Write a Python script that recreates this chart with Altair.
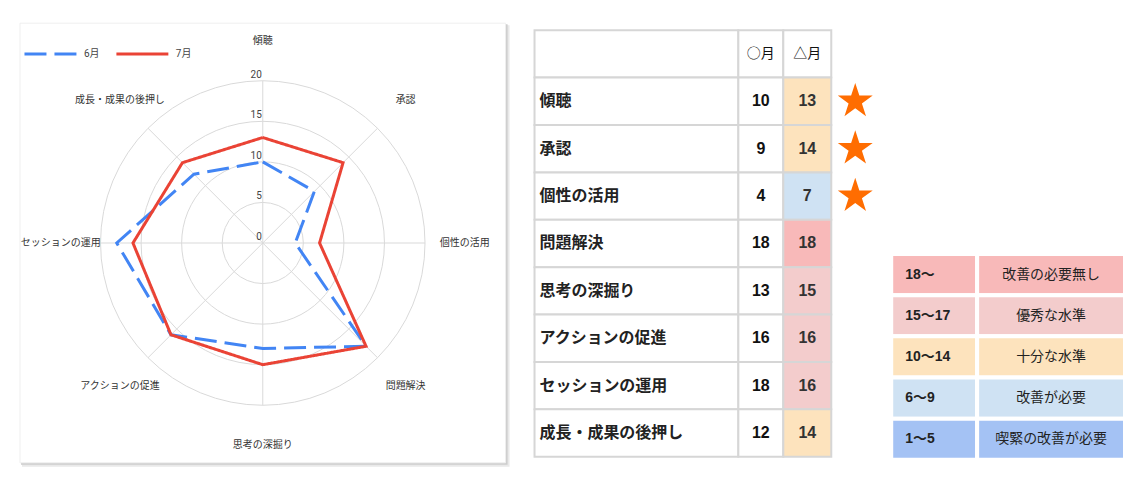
import math
import altair as alt
import pandas as pd

# ---------------- data ----------------
categories = ["傾聴", "承認", "個性の活用", "問題解決", "思考の深掘り",
              "アクションの促進", "セッションの運用", "成長・成果の後押し"]
june = [10, 9, 4, 18, 13, 16, 18, 12]
july = [13, 14, 7, 18, 15, 16, 16, 14]
series_names = ["6月", "7月"]
table_headers = ["○月", "△月"]
starred = [True, True, True, False, False, False, False, False]
radial_ticks = [0, 5, 10, 15, 20]
band_ranges = ["18〜", "15〜17", "10〜14", "6〜9", "1〜5"]
band_meanings = ["改善の必要無し", "優秀な水準", "十分な水準", "改善が必要", "喫緊の改善が必要"]
band_thresholds = [6, 10, 15, 18]

# ---------------- styles / layout ----------------
BAND_COLORS_LOW_HIGH = ["#A4C2F4", "#CFE2F3", "#FDE3BD", "#F3CCCC", "#F8B9B9"]
BAND_COLORS_HIGH_LOW = BAND_COLORS_LOW_HIGH[::-1]
SERIES_COLORS = ["#4285F4", "#EA4335"]
SERIES_DASH = [[22, 8], [1, 0]]
GRID = "#d9d9d9"
TBL_LINE = "#d6d6d6"
STAR_COLOR = "#FF6D01"
FONT_R = "Roboto, Noto Sans CJK JP, sans-serif"
FONT_T = "Liberation Sans, Arial, Noto Sans CJK JP, sans-serif"
FONT_J = "Noto Sans CJK JP, sans-serif"

H = 440                    # common panel height
RW = 486                   # radar card width
GAP1 = 29                  # gap between radar card and table
PX = 8.12                  # pixels per radial unit
RMAX = 20
LABEL_R = 24.9
n = len(categories)

xs = alt.Scale(domain=[-RW / 2 / PX, (RW / 2 + GAP1) / PX], nice=False, zero=False)
ys = alt.Scale(domain=[-H / 2 / PX, H / 2 / PX], nice=False, zero=False)
X = alt.X("px:Q", scale=xs, axis=None)
Y = alt.Y("py:Q", scale=ys, axis=None)
ANG = f"datum.i * 2 * PI / {n}"

# ---------------- radar ----------------
card_df = pd.DataFrame({"k": [0]})
shadow_far = alt.Chart(card_df).mark_rect(fill="#e9e9e9").encode(
    x=alt.value(2), x2=alt.value(RW + 4), y=alt.value(2), y2=alt.value(H + 4))
shadow_near = alt.Chart(card_df).mark_rect(fill="#cdcdcd").encode(
    x=alt.value(1), x2=alt.value(RW + 2), y=alt.value(1), y2=alt.value(H + 2))
card = alt.Chart(card_df).mark_rect(fill="white", stroke="#efefef", strokeWidth=1).encode(
    x=alt.value(0), x2=alt.value(RW), y=alt.value(0), y2=alt.value(H))

ring_df = pd.DataFrame({"ring": radial_ticks[1:]})
rings = alt.Chart(ring_df).transform_calculate(px="0", py="0").mark_point(
    filled=False, color=GRID, strokeWidth=1, opacity=1
).encode(
    x=X, y=Y,
    size=alt.Size("ring:Q", scale=alt.Scale(type="pow", exponent=2, domain=[0, RMAX],
                                            range=[0, (2 * RMAX * PX) ** 2]), legend=None),
)

cat_df = pd.DataFrame({"category": categories, "i": list(range(n))})
spokes = alt.Chart(cat_df).transform_calculate(
    a=ANG, px="0", py="0",
).transform_calculate(
    px2=f"{RMAX} * sin(datum.a)", py2=f"{RMAX} * cos(datum.a)"
).mark_rule(color=GRID, strokeWidth=1).encode(x=X, y=Y, x2="px2:Q", y2="py2:Q")

cat_labels = alt.Chart(cat_df).transform_calculate(a=ANG).transform_calculate(
    px=f"{LABEL_R} * sin(datum.a)", py=f"{LABEL_R} * cos(datum.a)"
).mark_text(font=FONT_R, fontSize=10, color="#333", align="center", baseline="middle").encode(
    x=X, y=Y, text="category:N")

tick_df = pd.DataFrame({"tick": radial_ticks})
tick_labels = alt.Chart(tick_df).transform_calculate(px="0", py="datum.tick").mark_text(
    font=FONT_R, fontSize=10, color="#444", align="right", baseline="bottom", dx=-1, dy=-1
).encode(x=X, y=Y, text="tick:Q")

rows = []
for s, vals in zip(series_names, [june, july]):
    for k in range(n + 1):
        i = k % n
        rows.append({"series": s, "order": k, "category": categories[i], "i": i, "value": vals[i]})
line_df = pd.DataFrame(rows)

leg = alt.Legend(title=None, orient="none", legendX=3, legendY=3, direction="horizontal",
                 symbolType="stroke", symbolSize=2704, symbolStrokeWidth=3,
                 labelFont=FONT_R, labelFontSize=10, labelColor="#444",
                 labelOffset=6, columnPadding=10)
lines = alt.Chart(line_df).transform_calculate(a=ANG).transform_calculate(
    px="datum.value * sin(datum.a)", py="datum.value * cos(datum.a)"
).mark_line(strokeWidth=3).encode(
    x=X, y=Y, order="order:Q",
    detail="series:N",
    color=alt.Color("series:N", scale=alt.Scale(domain=series_names, range=SERIES_COLORS), legend=leg),
    strokeDash=alt.StrokeDash("series:N", scale=alt.Scale(domain=series_names, range=SERIES_DASH), legend=leg),
)

radar = alt.layer(shadow_far, shadow_near, card, rings, spokes, tick_labels, lines, cat_labels).properties(
    width=RW + GAP1, height=H)

# ---------------- table ----------------
TABLE_TOP = 7
ROW_H = 47.44
TABLE_BOTTOM = TABLE_TOP + ROW_H * (n + 1)
HEADER_KEY = "__header__"
row_keys = [HEADER_KEY] + categories
TY = alt.Y("key:N", scale=alt.Scale(domain=row_keys, range=[TABLE_TOP, TABLE_BOTTOM],
                                    paddingInner=0, paddingOuter=0), axis=None)

all_rows = pd.DataFrame({"key": row_keys})
body = pd.DataFrame({"key": categories, "label": categories, "jun": june, "jul": july, "star": starred})
hdr = pd.DataFrame({"key": [HEADER_KEY], "h1": [table_headers[0]], "h2": [table_headers[1]]})


def cell_rects(df):
    return alt.Chart(df).mark_rect(fill="white", stroke=TBL_LINE, strokeWidth=2).encode(y=TY)


col0 = alt.layer(
    cell_rects(all_rows),
    alt.Chart(body).mark_text(font=FONT_T, fontSize=16, fontWeight="bold", color="#222",
                              align="left", baseline="middle").encode(
        y=TY, x=alt.value(5), text="label:N"),
).properties(width=204, height=H)

col1 = alt.layer(
    cell_rects(all_rows),
    alt.Chart(hdr).mark_text(font=FONT_J, fontSize=14, color="#111", baseline="middle").encode(
        y=TY, text="h1:N"),
    alt.Chart(body).mark_text(font=FONT_T, fontSize=16, fontWeight="bold", color="#111",
                              baseline="middle").encode(y=TY, text="jun:Q"),
).properties(width=45, height=H)

col2 = alt.layer(
    cell_rects(hdr),
    alt.Chart(body).mark_rect(stroke=TBL_LINE, strokeWidth=2, opacity=1).encode(
        y=TY,
        fill=alt.Fill("jul:Q", scale=alt.Scale(type="threshold", domain=band_thresholds,
                                               range=BAND_COLORS_LOW_HIGH), legend=None)),
    alt.Chart(hdr).mark_text(font=FONT_J, fontSize=14, color="#111", baseline="middle").encode(
        y=TY, text="h2:N"),
    alt.Chart(body).mark_text(font=FONT_T, fontSize=16, fontWeight="bold", color="#333",
                              baseline="middle").encode(y=TY, text="jul:Q"),
).properties(width=48, height=H)

pts = []
for k in range(10):
    r = 1.0 if k % 2 == 0 else 0.382
    ang = -math.pi / 2 + k * math.pi / 5
    pts.append(f"{r * math.cos(ang):.4f},{r * math.sin(ang):.4f}")
STAR_PATH = "M" + "L".join(pts) + "Z"

STAR_COL_W = 48
GAP2 = 12
col_star = alt.Chart(body).transform_filter("datum.star").transform_calculate(
    col="'s'").mark_point(shape=STAR_PATH, size=1350, filled=True, color=STAR_COLOR, opacity=1).encode(
    y=TY,
    x=alt.X("col:N", axis=None, scale=alt.Scale(type="band", range=[0, STAR_COL_W],
                                                paddingInner=0, paddingOuter=0)),
).properties(width=STAR_COL_W + GAP2, height=H)

# ---------------- band legend table ----------------
LG_TOP = 231
LG_BOTTOM = 437
band_df = pd.DataFrame({"range": band_ranges, "meaning": band_meanings})
LY = alt.Y("range:N", scale=alt.Scale(domain=band_ranges, range=[LG_TOP, LG_BOTTOM],
                                      paddingInner=0, paddingOuter=0), axis=None)
LC = alt.Fill("range:N", scale=alt.Scale(domain=band_ranges, range=BAND_COLORS_HIGH_LOW), legend=None)

lg0 = alt.layer(
    alt.Chart(band_df).mark_rect(stroke="white", strokeWidth=4, opacity=1).encode(y=LY, fill=LC),
    alt.Chart(band_df).mark_text(font=FONT_T, fontSize=14, fontWeight="bold", color="#222",
                                 align="left", baseline="middle").encode(
        y=LY, x=alt.value(14), text="range:N"),
).properties(width=86, height=H)

lg1 = alt.layer(
    alt.Chart(band_df).mark_rect(stroke="white", strokeWidth=4, opacity=1).encode(y=LY, fill=LC),
    alt.Chart(band_df).mark_text(font=FONT_J, fontSize=14, color="#222",
                                 baseline="middle").encode(y=LY, text="meaning:N"),
).properties(width=148, height=H)

chart = alt.hconcat(radar, col0, col1, col2, col_star, lg0, lg1, spacing=0, bounds="flush").resolve_scale(
    x="independent", y="independent", color="independent", fill="independent",
    strokeDash="independent", size="independent",
).resolve_legend(color="independent", strokeDash="independent", fill="independent").properties(
    padding={"left": 11, "top": 14, "right": 0, "bottom": 4},
    background="white",
).configure_view(stroke="transparent")

chart.save("out.html", embed_options={"renderer": "svg", "actions": False})
